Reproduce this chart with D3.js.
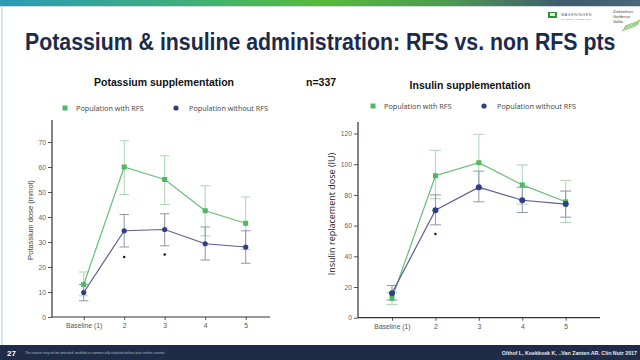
<!DOCTYPE html>
<html><head><meta charset="utf-8">
<script src="https://cdn.jsdelivr.net/npm/d3@7"></script>
<style>
html,body{margin:0;padding:0;background:#fff;}
svg{display:block;}
</style></head>
<body>
<svg id="c" width="640" height="360"></svg>
<script>
// ---------- data ----------
const categories = ["Baseline (1)", "2", "3", "4", "5"];
const seriesNames = ["Population with RFS", "Population without RFS"];

const potTicks = [0, 10, 20, 30, 40, 50, 60, 70];
const potRFS   = [13, 60, 55, 42.5, 37.5];
const potRFSLo = [8.5, 49, 45, 32.5, 27];
const potRFSHi = [18, 70.5, 64.5, 52.5, 48];
const potNon   = [9.8, 34.5, 35, 29.3, 28];
const potNonLo = [6.5, 28, 28.5, 22.8, 21.5];
const potNonHi = [13, 41, 41.3, 36, 34.5];
const potSig   = [null, 24, 25, null, null];

const insTicks = [0, 20, 40, 60, 80, 100, 120];
const insRFS   = [12.6, 92.5, 101, 86.5, 75.5];
const insRFSLo = [8.7, 77.5, 83.5, 74, 62];
const insRFSHi = [16.5, 109, 119.5, 99.5, 89.5];
const insNon   = [16, 70, 85, 76.5, 74];
const insNonLo = [11.5, 60.5, 75.5, 68.5, 65.5];
const insNonHi = [21, 80, 95.5, 85, 82.5];
const insSig   = [null, 54.5, null, null, null];

// ---------- styles ----------
const GREEN = "#4fb862", GREEN_LINE = "#68bd76", GREEN_ERR = "#a9d6b1";
const BLUE = "#2f3f86", BLUE_LINE = "#5b5f8c", BLUE_ERR = "#8f95ad";
const NAVY = "#1c2a4c";

const svg = d3.select("#c");

// top banner gradient
const defs = svg.append("defs");
const g1 = defs.append("linearGradient").attr("id", "band");
[["0%", "#2b9bb8"], ["30%", "#3fb07a"], ["50%", "#58bb3a"], ["70%", "#4e9a52"], ["88%", "#3e5b6e"], ["100%", "#4b6878"]]
  .forEach(s => g1.append("stop").attr("offset", s[0]).attr("stop-color", s[1]));
svg.append("rect").attr("x", 0).attr("y", 0).attr("width", 640).attr("height", 6).attr("fill", "url(#band)");
svg.append("rect").attr("x", 0).attr("y", 6).attr("width", 640).attr("height", 1).attr("fill", "#cfd8dc");
// left light edge
svg.append("rect").attr("x", 1).attr("y", 7).attr("width", 2).attr("height", 338).attr("fill", "#d6e6ee");

// logos (approximate)
svg.append("rect").attr("x", 548).attr("y", 12).attr("width", 9).attr("height", 6).attr("fill", "#2f8f3a");
svg.append("rect").attr("x", 550).attr("y", 13).attr("width", 5).attr("height", 3).attr("fill", "#e8f2e0");
svg.append("text").attr("x", 561).attr("y", 16).attr("font-family", "Liberation Sans, Arial, sans-serif")
  .attr("font-size", 3.6).attr("fill", "#555").attr("letter-spacing", 0.6).text("WAGENINGEN");
svg.append("text").attr("x", 561).attr("y", 19.5).attr("font-family", "Liberation Sans, Arial, sans-serif")
  .attr("font-size", 2.4).attr("fill", "#888").text("UNIVERSITY & RESEARCH");
["Ziekenhuis", "Gelderse", "Vallei"].forEach((t, i) =>
  svg.append("text").attr("x", 613).attr("y", 13 + i * 5).attr("font-family", "Liberation Sans, Arial, sans-serif")
    .attr("font-size", 4.2).attr("fill", "#444").text(t));
[0, 1, 2, 3].forEach(i =>
  svg.append("path").attr("d", `M${622 + i},${31 - i * 1.6} q4,-2 8,-3 q4,-1 8,-4`)
    .attr("fill", "none").attr("stroke", "#5cae3c").attr("stroke-width", 0.7));

// main title (horizontally condensed as in the slide)
svg.append("text").attr("transform", "translate(25,50) scale(1,1.13)")
  .attr("font-family", "Liberation Sans, Arial, sans-serif").attr("font-weight", "bold")
  .attr("font-size", 21.3).attr("fill", NAVY)
  .text("Potassium & insuline administration: RFS vs. non RFS pts");

// n=337
svg.append("text").attr("x", 306).attr("y", 86)
  .attr("font-family", "Liberation Sans, Arial, sans-serif").attr("font-weight", "bold")
  .attr("font-size", 10.5).attr("fill", "#111").text("n=337");

// footer
svg.append("rect").attr("x", 0).attr("y", 345).attr("width", 640).attr("height", 15).attr("fill", "#1f2c48");
svg.append("text").attr("x", 7).attr("y", 356).attr("font-family", "Liberation Sans, Arial, sans-serif")
  .attr("font-weight", "bold").attr("font-size", 8).attr("fill", "#fff").text("27");
svg.append("text").attr("x", 25).attr("y", 354).attr("font-family", "Liberation Sans, Arial, sans-serif")
  .attr("font-size", 3.2).attr("fill", "#aab4c6")
  .text("This content may not be amended, modified or commercially exploited without prior written consent");
svg.append("text").attr("x", 637).attr("y", 355).attr("text-anchor", "end")
  .attr("font-family", "Liberation Sans, Arial, sans-serif").attr("font-weight", "bold")
  .attr("font-size", 5.3).attr("fill", "#e6e9ef")
  .text("Olthof L, Koekkoek K, ..Van Zanten AR. Clin Nutr 2017");

// ---------- chart builder ----------
function drawChart(cfg) {
  const g = svg.append("g");
  const x = d3.scalePoint().domain(categories).range([cfg.x0, cfg.x1]);
  const y = d3.scaleLinear().domain([0, cfg.ymax]).range([cfg.yBottom, cfg.yTop]);

  // title
  g.append("text").attr("x", cfg.titleX).attr("y", cfg.titleY).attr("text-anchor", "middle")
    .attr("font-family", "Liberation Sans, Arial, sans-serif").attr("font-weight", "bold")
    .attr("font-size", 10.5).attr("fill", "#111").text(cfg.title);

  // legend
  const lg = g.append("g").attr("font-family", "Open Sans, sans-serif").attr("font-size", 7.3).attr("fill", "#444");
  lg.append("rect").attr("x", cfg.legX[0] - 2.5).attr("y", cfg.legY - 2.5).attr("width", 5).attr("height", 5).attr("fill", GREEN);
  lg.append("text").attr("x", cfg.legX[0] + 11).attr("y", cfg.legY + 2.6).text(seriesNames[0]);
  lg.append("circle").attr("cx", cfg.legX[1]).attr("cy", cfg.legY).attr("r", 2.6).attr("fill", BLUE);
  lg.append("text").attr("x", cfg.legX[1] + 13).attr("y", cfg.legY + 2.6).text(seriesNames[1]);

  // axes
  const ya = g.append("g").attr("transform", `translate(${cfg.axisX},0)`)
    .call(d3.axisLeft(y).tickValues(cfg.ticks).tickSize(4).tickPadding(2).tickSizeOuter(0));
  ya.select(".domain").remove();
  ya.selectAll(".tick line").attr("stroke", "#555");
  ya.selectAll(".tick text").attr("font-family", "Liberation Sans, Arial, sans-serif").attr("font-size", 6.8).attr("fill", "#666");
  g.append("line").attr("x1", cfg.axisX).attr("x2", cfg.axisX).attr("y1", cfg.axisTop).attr("y2", cfg.yBottom)
    .attr("stroke", "#333").attr("stroke-width", 1.2);

  const xa = g.append("g").attr("transform", `translate(0,${cfg.yBottom})`)
    .call(d3.axisBottom(x).tickSize(3).tickPadding(3).tickSizeOuter(0));
  xa.select(".domain").remove();
  xa.selectAll(".tick line").attr("stroke", "#555");
  xa.selectAll(".tick text").attr("font-family", "Liberation Sans, Arial, sans-serif").attr("font-size", 6.8).attr("fill", "#555");
  g.append("line").attr("x1", cfg.axisX).attr("x2", cfg.axisRight).attr("y1", cfg.yBottom).attr("y2", cfg.yBottom)
    .attr("stroke", "#333").attr("stroke-width", 1.2);

  // y label
  g.append("text").attr("transform", `translate(${cfg.ylabX},${cfg.ylabY}) rotate(-90)`)
    .attr("text-anchor", "middle").attr("font-family", cfg.ylabFont).attr("font-size", cfg.ylabSize)
    .attr("fill", cfg.ylabColor).text(cfg.ylabel);

  const series = [
    {v: cfg.rfs, lo: cfg.rfsLo, hi: cfg.rfsHi, col: GREEN, line: GREEN_LINE, err: GREEN_ERR, shape: "sq"},
    {v: cfg.non, lo: cfg.nonLo, hi: cfg.nonHi, col: BLUE, line: BLUE_LINE, err: BLUE_ERR, shape: "ci"}
  ];
  const cw = cfg.capW;
  // error bars
  series.forEach(s => {
    const eg = g.append("g").attr("stroke", s.err).attr("stroke-width", 1).attr("fill", "none");
    categories.forEach((c, i) => {
      const cx = x(c);
      eg.append("line").attr("x1", cx).attr("x2", cx).attr("y1", y(s.lo[i])).attr("y2", y(s.hi[i]));
      eg.append("line").attr("x1", cx - cw).attr("x2", cx + cw).attr("y1", y(s.lo[i])).attr("y2", y(s.lo[i]));
      eg.append("line").attr("x1", cx - cw).attr("x2", cx + cw).attr("y1", y(s.hi[i])).attr("y2", y(s.hi[i]));
    });
  });
  // lines + markers
  series.forEach(s => {
    const line = d3.line().x((d, i) => x(categories[i])).y(d => y(d));
    g.append("path").attr("d", line(s.v)).attr("fill", "none").attr("stroke", s.line).attr("stroke-width", 1.2);
  });
  series.forEach(s => {
    s.v.forEach((d, i) => {
      if (s.shape === "sq") {
        g.append("rect").attr("x", x(categories[i]) - cfg.sq / 2).attr("y", y(d) - cfg.sq / 2)
          .attr("width", cfg.sq).attr("height", cfg.sq).attr("fill", s.col);
      } else {
        g.append("circle").attr("cx", x(categories[i])).attr("cy", y(d)).attr("r", cfg.cr).attr("fill", s.col);
      }
    });
  });
  // significance markers
  cfg.sig.forEach((d, i) => {
    if (d == null) return;
    g.append("circle").attr("cx", x(categories[i])).attr("cy", y(d)).attr("r", 1.2).attr("fill", "#111");
  });
}

drawChart({
  title: "Potassium supplementation", titleX: 164, titleY: 86,
  legX: [65, 176], legY: 108,
  x0: 83.7, x1: 245.7, axisX: 52, axisRight: 270,
  ymax: 70, yBottom: 317, yTop: 142, axisTop: 120, ticks: potTicks,
  ylabel: "Potassium dose (mmol)", ylabX: 33, ylabY: 220, ylabSize: 7.6, ylabColor: "#444",
  ylabFont: "Liberation Sans, Arial, sans-serif",
  rfs: potRFS, rfsLo: potRFSLo, rfsHi: potRFSHi,
  non: potNon, nonLo: potNonLo, nonHi: potNonHi, sig: potSig,
  capW: 4.7, sq: 5, cr: 2.6
});

drawChart({
  title: "Insulin supplementation", titleX: 470, titleY: 89,
  legX: [373, 484], legY: 106,
  x0: 392, x1: 565.7, axisX: 358, axisRight: 600,
  ymax: 120, yBottom: 317.7, yTop: 133.5, axisTop: 122, ticks: insTicks,
  ylabel: "Insulin replacement dose (IU)", ylabX: 335, ylabY: 214, ylabSize: 9, ylabColor: "#222",
  ylabFont: "Open Sans, sans-serif",
  rfs: insRFS, rfsLo: insRFSLo, rfsHi: insRFSHi,
  non: insNon, nonLo: insNonLo, nonHi: insNonHi, sig: insSig,
  capW: 5.5, sq: 5, cr: 3
});
</script>
</body></html>
